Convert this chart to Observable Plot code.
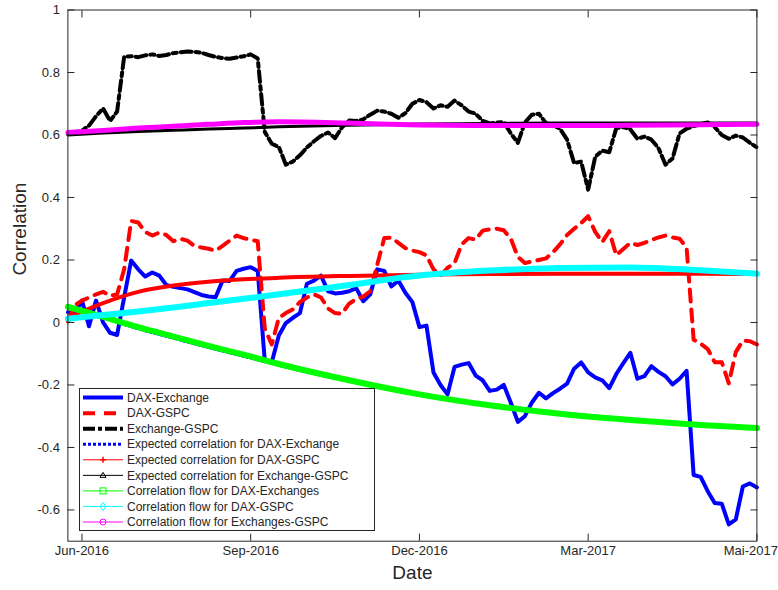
<!DOCTYPE html>
<html><head><meta charset="utf-8">
<script src="https://cdn.jsdelivr.net/npm/d3@7"></script>
<script src="https://cdn.jsdelivr.net/npm/@observablehq/plot@0.6"></script>
<style>
body{margin:0;background:#fff;}
#wrap{position:relative;width:778px;height:590px;font-family:"Liberation Sans",Arial,sans-serif;}
#legend{position:absolute;left:79px;top:388px;}
</style></head><body><div id="wrap"></div>
<script>
// x positions are trading-day sample indices; tick labels sit at these indices
const xTickIndex = [2, 26, 50, 74, 98];
const xTickLabels = ["Jun-2016", "Sep-2016", "Dec-2016", "Mar-2017", "Mai-2017"];
const yTicks = [-0.6, -0.4, -0.2, 0, 0.2, 0.4, 0.6, 0.8, 1];

const seriesNames = [
  "DAX-Exchange", "DAX-GSPC", "Exchange-GSPC",
  "Expected correlation for DAX-Exchange", "Expected correlation for DAX-GSPC",
  "Expected correlation for Exchange-GSPC", "Correlation flow for DAX-Exchanges",
  "Correlation flow for DAX-GSPC", "Correlation flow for Exchanges-GSPC"
];

const daxExchange = [0.033,0.030,0.070,-0.012,0.070,0.000,-0.033,-0.040,0.080,0.198,
 0.170,0.147,0.160,0.150,0.120,0.114,0.110,0.106,0.097,0.088,
 0.083,0.081,0.134,0.133,0.165,0.172,0.177,0.165,-0.122,-0.127,
 -0.042,-0.002,0.015,0.030,0.124,0.134,0.150,0.100,0.093,0.095,
 0.100,0.110,0.068,0.090,0.170,0.165,0.115,0.134,0.095,0.065,
 -0.015,-0.010,-0.160,-0.200,-0.230,-0.142,-0.135,-0.130,-0.170,-0.185,
 -0.219,-0.215,-0.200,-0.257,-0.318,-0.300,-0.256,-0.225,-0.243,-0.226,
 -0.212,-0.196,-0.148,-0.128,-0.160,-0.176,-0.185,-0.210,-0.165,-0.130,
 -0.097,-0.180,-0.172,-0.140,-0.158,-0.172,-0.198,-0.180,-0.155,-0.488,
 -0.494,-0.540,-0.578,-0.580,-0.646,-0.630,-0.525,-0.515,-0.528];

const daxGspc = [0.003,0.055,0.070,0.080,0.090,0.098,0.085,0.090,0.170,0.325,
 0.320,0.290,0.278,0.288,0.280,0.260,0.268,0.262,0.245,0.240,
 0.236,0.230,0.245,0.262,0.278,0.270,0.265,0.260,-0.020,-0.070,
 0.015,0.030,0.042,0.065,0.080,0.090,0.080,0.045,0.030,0.028,
 0.060,0.075,0.083,0.100,0.185,0.270,0.272,0.255,0.238,0.230,
 0.225,0.215,0.170,0.150,0.175,0.190,0.250,0.270,0.265,0.294,
 0.298,0.300,0.295,0.268,0.210,0.190,0.195,0.200,0.205,0.225,
 0.250,0.280,0.300,0.318,0.340,0.290,0.257,0.292,0.215,0.235,
 0.255,0.248,0.255,0.264,0.272,0.278,0.272,0.268,0.240,-0.055,
 -0.068,-0.085,-0.127,-0.127,-0.195,-0.095,-0.058,-0.060,-0.070];

const exchangeGspc = [0.604,0.608,0.614,0.630,0.660,0.685,0.645,0.675,0.850,0.852,
 0.849,0.855,0.858,0.853,0.856,0.862,0.865,0.867,0.866,0.863,
 0.856,0.850,0.846,0.844,0.848,0.852,0.858,0.845,0.610,0.572,
 0.562,0.505,0.515,0.535,0.560,0.580,0.597,0.608,0.590,0.625,
 0.646,0.645,0.650,0.665,0.678,0.675,0.668,0.655,0.670,0.700,
 0.712,0.705,0.685,0.695,0.690,0.710,0.695,0.675,0.668,0.645,
 0.637,0.640,0.641,0.605,0.575,0.640,0.665,0.668,0.638,0.632,
 0.620,0.585,0.510,0.515,0.425,0.530,0.550,0.545,0.622,0.625,
 0.618,0.588,0.595,0.585,0.558,0.505,0.525,0.605,0.620,0.628,
 0.635,0.640,0.625,0.600,0.588,0.598,0.592,0.575,0.560];

// smooth series, sampled at these indices
const smoothIndex = [0, 5, 10, 15, 20, 25, 30, 40, 50, 60, 70, 80, 90, 98];
const expDaxExchange   = [0.050,0.015,-0.020,-0.050,-0.080,-0.108,-0.137,-0.188,-0.230,-0.263,-0.289,-0.309,-0.326,-0.338];
const expDaxGspc       = [0.015,0.062,0.098,0.118,0.130,0.138,0.143,0.149,0.153,0.155,0.156,0.156,0.156,0.155];
const expExchangeGspc  = [0.600,0.606,0.611,0.615,0.619,0.622,0.626,0.631,0.635,0.637,0.638,0.638,0.638,0.638];
const flowDaxExchanges = [0.050,0.018,-0.015,-0.045,-0.075,-0.103,-0.133,-0.185,-0.230,-0.265,-0.292,-0.312,-0.328,-0.338];
const flowDaxGspc      = [0.012,0.024,0.035,0.048,0.062,0.076,0.090,0.120,0.150,0.166,0.174,0.176,0.167,0.156];
const flowExchangesGspc= [0.608,0.614,0.622,0.628,0.634,0.640,0.642,0.638,0.632,0.630,0.630,0.631,0.633,0.634];

const jag = arr => arr.map((v, i) => ({i, v}));
const smo = arr => arr.map((v, k) => ({i: smoothIndex[k], v}));

const styles = [
  {stroke: "#0000ff", strokeWidth: 4},
  {stroke: "#ff0000", strokeWidth: 4, strokeDasharray: "12,8"},
  {stroke: "#000000", strokeWidth: 4, strokeDasharray: "11,4,4,4"},
  {stroke: "#0000ff", strokeWidth: 3, strokeDasharray: "3,2"},
  {stroke: "#ff0000", strokeWidth: 4},
  {stroke: "#000000", strokeWidth: 3},
  {stroke: "#00ff00", strokeWidth: 6},
  {stroke: "#00ffff", strokeWidth: 6},
  {stroke: "#ff00ff", strokeWidth: 5}
];
const seriesData = [jag(daxExchange), jag(daxGspc), jag(exchangeGspc),
  smo(expDaxExchange), smo(expDaxGspc), smo(expExchangeGspc),
  smo(flowDaxExchanges), smo(flowDaxGspc), smo(flowExchangesGspc)];

const yFmt = d => String(Math.round(d * 10) / 10);
const xFmt = d => xTickLabels[xTickIndex.indexOf(d)];
const lastTick = xTickIndex[xTickIndex.length - 1];

const chart = Plot.plot({
  width: 778, height: 590,
  marginLeft: 67.4, marginRight: 21.6, marginTop: 9.5, marginBottom: 49.3,
  style: {fontFamily: "Liberation Sans, Arial, sans-serif", fontSize: "13px", color: "#262626", background: "#fff"},
  x: {domain: [0, 98]},
  y: {domain: [-0.7, 1]},
  marks: [
    ...seriesData.map((d, k) => Plot.line(d, {x: "i", y: "v", ...styles[k],
      strokeLinejoin: "round", curve: k < 3 ? "linear" : "monotone-x"})),
    Plot.frame({stroke: "#262626", strokeWidth: 1}),
    Plot.axisY(yTicks, {anchor: "left", tickSize: 0, tickPadding: 8, tickFormat: yFmt, label: null, fontSize: 13}),
    Plot.axisY(yTicks, {anchor: "left", tickSize: -7, tickFormat: () => "", label: null}),
    Plot.axisY(yTicks, {anchor: "right", tickSize: -7, tickFormat: () => "", label: null}),
    Plot.axisX(xTickIndex.slice(0, -1), {anchor: "bottom", tickSize: 0, tickPadding: 5, tickFormat: xFmt, label: null, fontSize: 13}),
    Plot.axisX([lastTick], {anchor: "bottom", tickSize: 0, tickPadding: 5, tickFormat: xFmt, label: null, fontSize: 13, textAnchor: "end", dx: 21}),
    Plot.axisX(xTickIndex, {anchor: "bottom", tickSize: -7, tickFormat: () => "", label: null}),
    Plot.axisX(xTickIndex, {anchor: "top", tickSize: -7, tickFormat: () => "", label: null}),
    Plot.text(["Correlation"], {frameAnchor: "left", dx: -48, rotate: -90, fontSize: 19, fill: "#262626"}),
    Plot.text(["Date"], {frameAnchor: "bottom", dy: 38, fontSize: 19, fill: "#262626"})
  ]
});
const wrap = document.getElementById("wrap");
wrap.appendChild(chart);

// legend overlay
const lw = 296, lh = 143;
const leg = d3.select(wrap).append("svg").attr("id", "legend").attr("width", lw).attr("height", lh);
leg.append("rect").attr("x", 0.5).attr("y", 0.5).attr("width", lw - 1).attr("height", lh - 1)
  .attr("fill", "#fff").attr("stroke", "#262626");
const legStyles = [
  {stroke: "#0000ff", w: 4},
  {stroke: "#ff0000", w: 4, dash: "12,9"},
  {stroke: "#000000", w: 4, dash: "12,3,4,3"},
  {stroke: "#0000ff", w: 3, dash: "3,2"},
  {stroke: "#ff0000", w: 1, marker: "plus"},
  {stroke: "#000000", w: 1, marker: "triangle"},
  {stroke: "#00ff00", w: 1, marker: "square"},
  {stroke: "#00ffff", w: 1, marker: "diamond"},
  {stroke: "#ff00ff", w: 1, marker: "circle"}
];
seriesNames.forEach((name, k) => {
  const s = legStyles[k];
  const cy = 9.6 + k * 15.55;
  const g = leg.append("g");
  g.append("line").attr("x1", 4).attr("x2", 44).attr("y1", cy).attr("y2", cy)
    .attr("stroke", s.stroke).attr("stroke-width", s.w).attr("stroke-dasharray", s.dash || null);
  const mx = 24;
  if (s.marker === "plus") {
    g.append("path").attr("d", `M${mx-3},${cy}h6M${mx},${cy-3}v6`).attr("stroke", s.stroke).attr("stroke-width", 1.5);
  } else if (s.marker === "triangle") {
    g.append("path").attr("d", `M${mx},${cy-3}L${mx+3},${cy+2}L${mx-3},${cy+2}Z`).attr("stroke", s.stroke).attr("fill", "none");
  } else if (s.marker === "square") {
    g.append("rect").attr("x", mx-3).attr("y", cy-3).attr("width", 6).attr("height", 6).attr("stroke", s.stroke).attr("fill", "none");
  } else if (s.marker === "diamond") {
    g.append("path").attr("d", `M${mx},${cy-4}L${mx+3},${cy}L${mx},${cy+4}L${mx-3},${cy}Z`).attr("stroke", s.stroke).attr("fill", "none");
  } else if (s.marker === "circle") {
    g.append("circle").attr("cx", mx).attr("cy", cy).attr("r", 3).attr("stroke", s.stroke).attr("fill", "none");
  }
  g.append("text").attr("x", 48).attr("y", cy).attr("dy", "0.35em")
    .attr("font-family", "Liberation Sans, Arial, sans-serif").attr("font-size", 12).attr("fill", "#262626").text(name);
});
</script></body></html>
